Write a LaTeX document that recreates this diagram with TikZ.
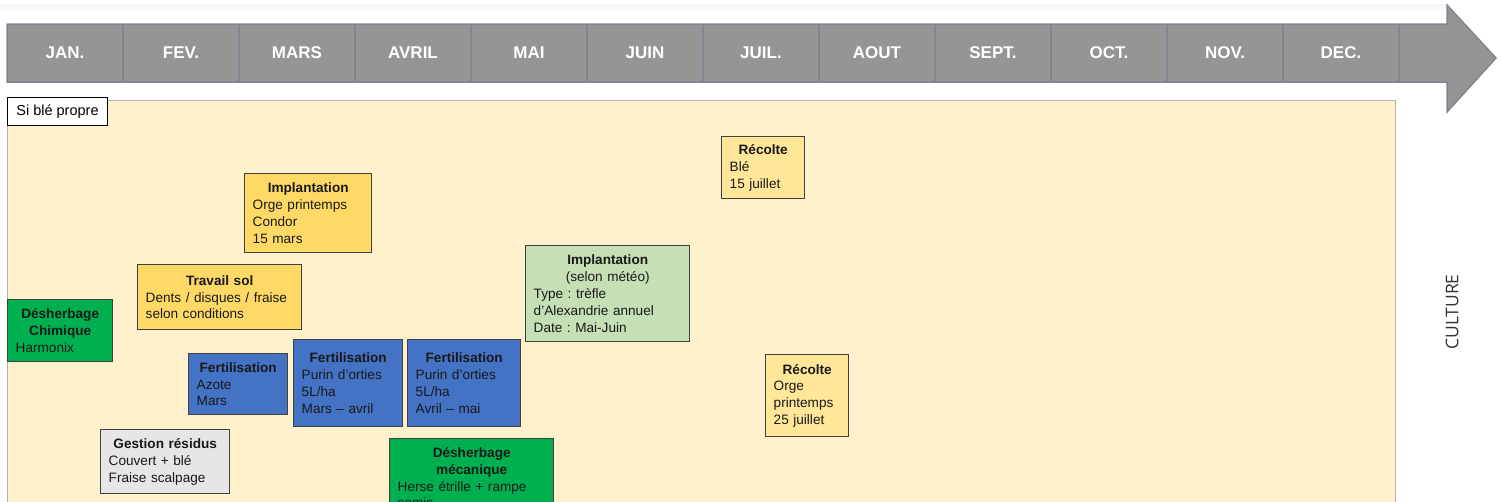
\documentclass[tikz,border=0pt]{standalone}
\usepackage{fontspec}
\setmainfont{Liberation Sans}
\newfontfamily\culturefont{Open Sans}
\usetikzlibrary{positioning}
\frenchspacing
\definecolor{grisfleche}{HTML}{959595}
\definecolor{gristrait}{HTML}{7E8694}
\definecolor{creme}{HTML}{FFF1CC}
\definecolor{jaune}{HTML}{FFD966}
\definecolor{jaunepale}{HTML}{FFE699}
\definecolor{bleu}{HTML}{4472C4}
\definecolor{vert}{HTML}{00B050}
\definecolor{vertclair}{HTML}{C5E0B4}
\definecolor{grisclair}{HTML}{E7E6E6}
% centered line inside a box
\newcommand{\centre}[1]{\hspace*{\fill}#1\hspace*{\fill}\null}
\newcommand{\titre}[1]{\centre{\textbf{#1}}}
\tikzset{
    %Define style for month labels
    mois/.style={
           text=white,
           font=\fontsize{17}{20}\selectfont\bfseries},
    %Define style for boxes
    tache/.style={
           rectangle,
           draw=black!75, line width=1.4pt,
           anchor=north west,
           align=left,
           inner xsep=8pt, inner ysep=2pt,
           text=black!90,
           font=\fontsize{13.6}{16.8}\selectfont},
    % Define style for the timeline
    fleche/.style={
           fill=grisfleche,
           draw=gristrait,
           line width=1.5pt}
}
\begin{document}
\begin{tikzpicture}[x=1pt, y=-1pt]
         \useasboundingbox (0,0) rectangle (1501,501);
         \clip (0,0) rectangle (1501,501);
         \fill[black!3] (0,4) rectangle (1447,10);
         %timeline
         \draw[fleche] (7,24) -- (1447,24) -- (1447,5) -- (1496,58)
            -- (1447,112) -- (1447,82) -- (7,82) -- cycle;
         \foreach \k in {1,...,12}
            \draw[gristrait, line width=1.5pt] (7+116*\k,24) -- (7+116*\k,82);
         \foreach \m [count=\i] in {JAN.,FEV.,MARS,AVRIL,MAI,JUIN,JUIL.,AOUT,SEPT.,OCT.,NOV.,DEC.}
            \node[mois] (m\i) at (116*\i-51,53) {\m};
         %panel
         \draw[fill=creme, draw=black!30, line width=1pt] (7,100) rectangle (1395,530);
         \node[draw=black, fill=white, line width=1pt, anchor=north west,
            minimum width=100pt, minimum height=28pt, inner sep=0pt,
            font=\fontsize{14.5}{17}\selectfont] (propre) at (7,97) {Si blé propre};
         \node[rotate=90, text=black!80,
            font=\culturefont\fontsize{17.5}{20}\selectfont] (culture) at (1452,312) {CULTURE};
         %nodes
         \node[tache, fill=vert, minimum width=105pt, minimum height=62pt, text width=89pt]
            (chimique) at (7,299) {\titre{Désherbage}\\\titre{Chimique}\\Harmonix};
         \node[tache, fill=jaune, minimum width=164pt, minimum height=65pt, text width=148pt]
            (travail) at (137,264) {\titre{Travail sol}\\Dents / disques / fraise\\selon conditions};
         \node[tache, fill=jaune, minimum width=127pt, minimum height=79pt, text width=111pt]
            (implorge) at (244,173) {\titre{Implantation}\\Orge printemps\\Condor\\15 mars};
         \node[tache, fill=bleu, minimum width=99pt, minimum height=61pt, text width=83pt]
            (azote) at (188,353) {\titre{Fertilisation}\\Azote\\Mars};
         \node[tache, fill=bleu, minimum width=109pt, minimum height=87pt, text width=93pt]
            (purinmars) at (293,339) {\titre{Fertilisation}\\Purin d’orties\\5L/ha\\Mars – avril};
         \node[tache, fill=bleu, minimum width=113pt, minimum height=87pt, text width=97pt]
            (purinavril) at (407,339) {\titre{Fertilisation}\\Purin d’orties\\5L/ha\\Avril – mai};
         \node[tache, fill=grisclair, minimum width=129pt, minimum height=64pt, text width=113pt]
            (residus) at (100,429) {\titre{Gestion résidus}\\Couvert + blé\\Fraise scalpage};
         \node[tache, fill=vert, minimum width=164pt, minimum height=78pt, text width=148pt]
            (mecanique) at (389,438) {\titre{Désherbage}\\\titre{mécanique}\\Herse étrille + rampe\\semis};
         \node[tache, fill=vertclair, minimum width=164pt, minimum height=96pt, text width=148pt]
            (implcouvert) at (525,245) {\titre{Implantation}\\\centre{(selon météo)}\\Type : trèfle\\d’Alexandrie annuel\\Date : Mai-Juin};
         \node[tache, fill=jaunepale, minimum width=83pt, minimum height=62pt, text width=67pt]
            (recolteble) at (721,136) {\titre{Récolte}\\Blé\\15 juillet};
         \node[tache, fill=jaunepale, minimum width=83pt, minimum height=82pt, text width=67pt]
            (recolteorge) at (765,354) {\titre{Récolte}\\Orge\\printemps\\25 juillet};
\end{tikzpicture}
\end{document}
